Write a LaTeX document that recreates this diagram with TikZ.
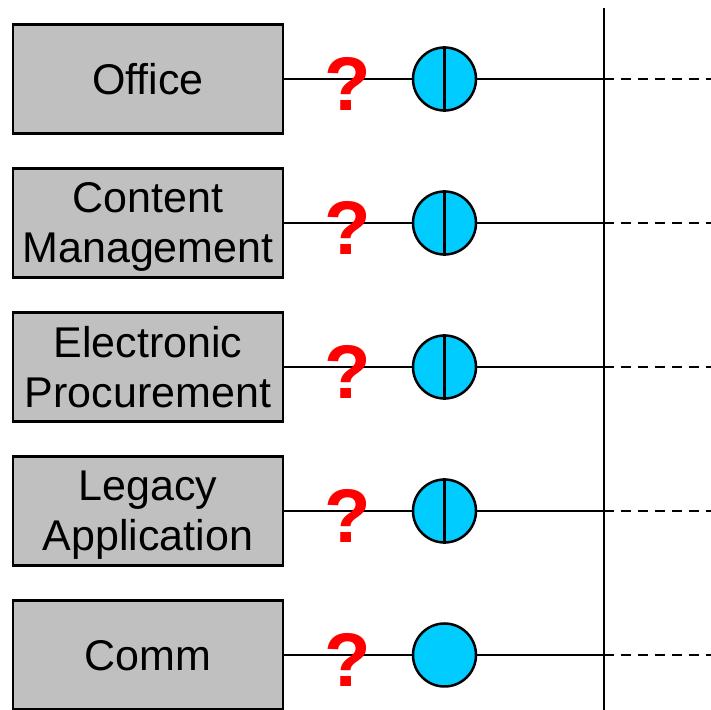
\documentclass[tikz,border=0pt]{standalone}
\usepackage{fontspec}
\setmainfont{Liberation Sans}
\usetikzlibrary{positioning}
\definecolor{gris}{HTML}{C0C0C0}
\definecolor{bleu}{HTML}{00CCFF}

\begin{document}
\begin{tikzpicture}[x=0.5pt,y=0.5pt,line width=1.25pt,
  appli/.style={draw,fill=gris,minimum width=135pt,minimum height=54.5pt,
    align=center,inner sep=0pt,text depth=0pt,font=\fontsize{21.5}{25}\selectfont},
  prise/.style={circle,draw,fill=bleu,minimum size=31.5pt,inner sep=0pt},
  doute/.style={text=red,inner sep=0pt,font=\bfseries\fontsize{38}{38}\selectfont}]
\useasboundingbox (0,0) rectangle (711,710);
% applications
\node[appli] (app1) at (148,631) {Office};
\node[appli] (app2) at (148,487) {Content\\Management};
\node[appli] (app3) at (148,343) {Electronic\\Procurement};
\node[appli] (app4) at (148,199) {Legacy\\Application};
\node[appli] (app5) at (148,55) {Comm};
% interfaces
\node[prise] (if1) at (444.5,631) {};
\node[prise] (if2) at (444.5,487) {};
\node[prise] (if3) at (444.5,343) {};
\node[prise] (if4) at (444.5,199) {};
\node[prise] (if5) at (444.5,55) {};
% bus
\coordinate (haut) at (604,702);
\coordinate (bas) at (604,0);
\draw (haut) -- (bas);
\coordinate (b1) at (604,631); \coordinate (f1) at (711,631);
\coordinate (b2) at (604,487); \coordinate (f2) at (711,487);
\coordinate (b3) at (604,343); \coordinate (f3) at (711,343);
\coordinate (b4) at (604,199); \coordinate (f4) at (711,199);
\coordinate (b5) at (604,55);  \coordinate (f5) at (711,55);
% liaisons
\draw (app1.east) -- (if1.west) (if1.east) -- (b1);
\draw (app2.east) -- (if2.west) (if2.east) -- (b2);
\draw (app3.east) -- (if3.west) (if3.east) -- (b3);
\draw (app4.east) -- (if4.west) (if4.east) -- (b4);
\draw (app5.east) -- (if5.west) (if5.east) -- (b5);
\draw[dash pattern=on 5pt off 3.5pt] (b1) -- (f1) (b2) -- (f2) (b3) -- (f3) (b4) -- (f4) (b5) -- (f5);
% separations
\draw (if1.north) -- (if1.south);
\draw (if2.north) -- (if2.south);
\draw (if3.north) -- (if3.south);
\draw (if4.north) -- (if4.south);
% points d'interrogation
\node[doute] (q1) at (348,626) {?};
\node[doute] (q2) at (348,482) {?};
\node[doute] (q3) at (348,338) {?};
\node[doute] (q4) at (348,194) {?};
\node[doute] (q5) at (348,50) {?};
\end{tikzpicture}
\end{document}
